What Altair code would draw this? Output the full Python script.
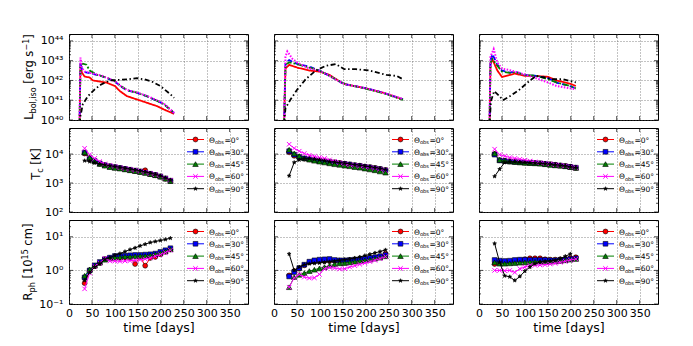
import math
import altair as alt
import pandas as pd

SERIES = ["0°", "30°", "45°", "60°", "90°"]
COLORS = ["#ff0000", "#0000ff", "#008000", "#ff00ff", "#000000"]

# ---------------- Row 1: log10 L_bol,iso (lines only) ----------------
L1_T_RED = [23, 25, 28, 34, 45, 52, 82, 100, 111, 126, 148, 170, 192, 207, 229]
L1_RED = [39.8, 42.83, 42.4, 42.2, 42.15, 42.0, 41.89, 41.72, 41.46, 41.21, 41.04, 40.87, 40.7, 40.53, 40.31]
L1_T_BLUE = [23, 25, 28, 34, 52, 70, 82, 100, 111, 126, 148, 170, 192, 207, 229]
L1_BLUE = [39.8, 42.9, 42.58, 42.43, 42.33, 42.23, 42.12, 41.95, 41.72, 41.5, 41.37, 41.2, 40.97, 40.8, 40.35]
L1_T_GREEN = [23, 25, 30, 38, 45, 60, 82, 100, 111, 126, 148, 170, 192, 207, 229]
L1_GREEN = [39.8, 42.8, 42.85, 42.8, 42.5, 42.3, 42.14, 41.97, 41.75, 41.52, 41.38, 41.2, 40.97, 40.8, 40.36]
L1_T_MAG = [23, 25, 28, 34, 52, 70, 82, 100, 111, 126, 148, 170, 192, 207, 229]
L1_MAG = [39.8, 43.16, 42.65, 42.45, 42.35, 42.25, 42.14, 41.97, 41.74, 41.52, 41.39, 41.22, 40.99, 40.82, 40.36]
L1_T_BLACK = [23, 25, 30, 41, 56, 70, 89, 110, 130, 148, 165, 180, 199, 221, 229]
L1_BLACK = [39.8, 40.2, 40.79, 41.2, 41.55, 41.8, 42.0, 42.03, 42.06, 42.12, 42.05, 41.95, 41.72, 41.3, 41.12]

L2_T = [22, 25, 33, 51, 77, 99, 121, 146, 157, 201, 238, 281]
L2_RED = [39.8, 42.6, 42.79, 42.65, 42.5, 42.45, 42.28, 41.9, 41.8, 41.6, 41.38, 41.04]
L2_BLUE = [39.8, 42.9, 43.03, 42.83, 42.7, 42.5, 42.23, 41.9, 41.8, 41.6, 41.38, 41.04]
L2_GREEN = [39.8, 42.8, 42.91, 42.83, 42.65, 42.5, 42.23, 41.92, 41.8, 41.58, 41.36, 41.02]
L2_T_MAG = [22, 25, 29, 40, 51, 77, 99, 121, 146, 157, 201, 238, 281]
L2_MAG = [39.8, 43.2, 43.47, 43.1, 42.9, 42.6, 42.5, 42.23, 41.9, 41.8, 41.6, 41.38, 41.06]
L2_T_BLACK = [22, 25, 36, 51, 69, 91, 113, 135, 153, 179, 208, 245, 267, 281]
L2_BLACK = [39.8, 40.6, 41.04, 41.55, 42.06, 42.5, 42.74, 42.83, 42.57, 42.57, 42.5, 42.28, 42.23, 42.06]

L3_T = [23, 25, 29, 40, 50, 67, 78, 100, 125, 151, 169, 198, 211]
L3_RED = [39.8, 42.8, 43.08, 42.5, 42.18, 42.28, 42.35, 42.23, 42.23, 42.18, 42.0, 41.84, 41.72]
L3_BLUE = [39.8, 43.0, 43.34, 42.8, 42.5, 42.4, 42.45, 42.28, 42.23, 42.11, 41.89, 41.72, 41.6]
L3_GREEN = [39.8, 42.9, 43.08, 42.75, 42.45, 42.38, 42.42, 42.28, 42.23, 42.06, 41.9, 41.72, 41.6]
L3_T_MAG = [23, 25, 32, 40, 50, 67, 78, 100, 125, 151, 169, 198, 211]
L3_MAG = [39.8, 43.2, 43.59, 42.9, 42.6, 42.52, 42.45, 42.3, 42.11, 41.89, 41.72, 41.6, 41.55]
L3_T_BLACK = [23, 26, 33, 45, 52, 67, 89, 111, 125, 143, 162, 184, 211]
L3_BLACK = [39.8, 40.95, 41.46, 41.2, 41.0, 41.2, 41.55, 42.0, 42.23, 42.15, 42.06, 42.06, 41.9]

# ---------------- Rows 2, 3: marker times ----------------
T1 = [34, 45, 56, 67, 78, 89, 100, 111, 122, 133, 144, 155, 166, 177, 188, 199, 210, 221]
T2 = [33, 44, 55, 66, 77, 88, 99, 110, 121, 132, 143, 154, 165, 176, 187, 198, 209, 220, 231, 243]
T3 = [34, 45, 56, 67, 78, 89, 100, 111, 122, 133, 144, 155, 166, 177, 188, 199, 211]

# Row 2: log10 T_c [K]
TC1_RED = [4.02, 3.83, 3.74, 3.66, 3.61, 3.57, 3.54, 3.51, 3.48, 3.45, 3.42, 3.39, 3.44, 3.31, 3.27, 3.22, 3.15, 3.08]
TC1_BLUE = [4.05, 3.86, 3.76, 3.68, 3.62, 3.58, 3.55, 3.52, 3.49, 3.46, 3.43, 3.40, 3.36, 3.32, 3.28, 3.23, 3.16, 3.08]
TC1_GREEN = [4.06, 3.88, 3.75, 3.66, 3.60, 3.55, 3.52, 3.50, 3.47, 3.44, 3.41, 3.38, 3.35, 3.31, 3.27, 3.22, 3.15, 3.07]
TC1_MAG = [4.20, 3.98, 3.85, 3.74, 3.66, 3.61, 3.57, 3.53, 3.50, 3.47, 3.44, 3.41, 3.37, 3.33, 3.29, 3.24, 3.17, 3.10]
TC1_BLACK = [3.77, 3.74, 3.70, 3.66, 3.63, 3.60, 3.57, 3.54, 3.51, 3.48, 3.45, 3.42, 3.38, 3.34, 3.30, 3.25, 3.18, 3.10]

TC2_RED = [4.06, 3.94, 3.88, 3.84, 3.82, 3.80, 3.78, 3.76, 3.74, 3.72, 3.69, 3.67, 3.64, 3.62, 3.60, 3.57, 3.55, 3.52, 3.49, 3.45]
TC2_BLUE = [4.10, 3.98, 3.90, 3.85, 3.82, 3.79, 3.76, 3.74, 3.72, 3.70, 3.68, 3.66, 3.64, 3.61, 3.59, 3.56, 3.54, 3.51, 3.48, 3.44]
TC2_GREEN = [4.15, 4.02, 3.93, 3.86, 3.81, 3.77, 3.74, 3.71, 3.68, 3.65, 3.63, 3.60, 3.58, 3.55, 3.53, 3.50, 3.47, 3.44, 3.40, 3.36]
TC2_MAG = [4.34, 4.20, 4.10, 4.02, 3.96, 3.92, 3.88, 3.85, 3.80, 3.75, 3.70, 3.66, 3.63, 3.61, 3.59, 3.56, 3.54, 3.51, 3.48, 3.44]
TC2_BLACK = [3.25, 3.71, 3.80, 3.84, 3.84, 3.82, 3.80, 3.77, 3.74, 3.72, 3.70, 3.68, 3.66, 3.63, 3.61, 3.58, 3.56, 3.53, 3.50, 3.46]

TC3_RED = [4.00, 3.79, 3.77, 3.75, 3.73, 3.72, 3.71, 3.70, 3.69, 3.68, 3.66, 3.65, 3.63, 3.61, 3.59, 3.56, 3.53]
TC3_BLUE = [3.98, 3.78, 3.76, 3.74, 3.73, 3.72, 3.71, 3.70, 3.69, 3.68, 3.66, 3.64, 3.62, 3.60, 3.58, 3.56, 3.53]
TC3_GREEN = [4.02, 3.80, 3.77, 3.75, 3.73, 3.71, 3.70, 3.69, 3.68, 3.67, 3.65, 3.63, 3.61, 3.60, 3.58, 3.55, 3.52]
TC3_MAG = [4.17, 3.98, 3.93, 3.88, 3.85, 3.82, 3.79, 3.76, 3.73, 3.70, 3.68, 3.66, 3.63, 3.61, 3.59, 3.56, 3.53]
TC3_BLACK = [3.23, 3.48, 3.71, 3.73, 3.73, 3.72, 3.71, 3.70, 3.69, 3.68, 3.67, 3.65, 3.63, 3.61, 3.59, 3.56, 3.53]

# Row 3: log10 R_ph [1e15 cm]
RPH1_RED = [-0.38, 0.00, 0.13, 0.22, 0.33, 0.36, 0.36, 0.37, 0.38, 0.38, 0.19, 0.40, 0.14, 0.37, 0.40, 0.48, 0.55, 0.62]
RPH1_BLUE = [-0.21, 0.00, 0.15, 0.25, 0.33, 0.38, 0.43, 0.44, 0.44, 0.45, 0.46, 0.46, 0.47, 0.48, 0.50, 0.55, 0.60, 0.66]
RPH1_GREEN = [-0.16, 0.03, 0.14, 0.23, 0.32, 0.36, 0.38, 0.39, 0.41, 0.41, 0.42, 0.43, 0.43, 0.45, 0.48, 0.52, 0.57, 0.63]
RPH1_MAG = [-0.55, -0.08, 0.12, 0.22, 0.36, 0.28, 0.28, 0.27, 0.28, 0.29, 0.30, 0.32, 0.34, 0.37, 0.42, 0.47, 0.53, 0.60]
RPH1_BLACK = [-0.30, -0.06, 0.10, 0.20, 0.33, 0.38, 0.45, 0.50, 0.56, 0.62, 0.67, 0.73, 0.78, 0.83, 0.86, 0.89, 0.92, 0.96]

RPH2_RED = [-0.15, -0.02, 0.05, 0.15, 0.24, 0.27, 0.28, 0.28, 0.28, 0.28, 0.29, 0.29, 0.30, 0.31, 0.32, 0.34, 0.36, 0.38, 0.42, 0.50]
RPH2_BLUE = [-0.18, -0.05, 0.07, 0.17, 0.26, 0.30, 0.32, 0.33, 0.34, 0.31, 0.30, 0.30, 0.31, 0.32, 0.33, 0.35, 0.37, 0.39, 0.42, 0.46]
RPH2_GREEN = [-0.50, -0.20, -0.13, -0.08, -0.02, 0.02, 0.06, 0.10, 0.14, 0.18, 0.21, 0.22, 0.24, 0.26, 0.28, 0.30, 0.32, 0.35, 0.38, 0.42]
RPH2_MAG = [-0.50, -0.22, -0.12, -0.20, -0.23, -0.22, -0.12, 0.05, 0.09, 0.07, 0.04, 0.05, 0.10, 0.14, 0.18, 0.22, 0.26, 0.30, 0.35, 0.41]
RPH2_BLACK = [0.49, 0.00, 0.10, 0.17, 0.20, 0.21, 0.22, 0.24, 0.26, 0.28, 0.30, 0.32, 0.34, 0.37, 0.40, 0.44, 0.48, 0.52, 0.56, 0.61]

RPH3_RED = [0.19, 0.22, 0.24, 0.24, 0.26, 0.30, 0.33, 0.36, 0.36, 0.36, 0.33, 0.32, 0.32, 0.33, 0.34, 0.37, 0.39]
RPH3_BLUE = [0.31, 0.29, 0.28, 0.29, 0.31, 0.32, 0.32, 0.31, 0.31, 0.31, 0.31, 0.30, 0.30, 0.31, 0.32, 0.34, 0.36]
RPH3_GREEN = [0.24, 0.20, 0.20, 0.21, 0.22, 0.23, 0.24, 0.25, 0.26, 0.26, 0.25, 0.26, 0.27, 0.28, 0.30, 0.32, 0.34]
RPH3_MAG = [0.00, 0.00, -0.01, 0.00, -0.06, 0.05, 0.10, 0.15, 0.15, 0.16, 0.17, 0.19, 0.21, 0.24, 0.27, 0.31, 0.34]
RPH3_BLACK = [0.80, 0.24, -0.16, -0.19, -0.30, -0.18, -0.02, 0.10, 0.20, 0.25, 0.27, 0.28, 0.30, 0.35, 0.42, 0.49]

DATA = [
    [
        [(L1_T_RED, L1_RED), (L1_T_BLUE, L1_BLUE), (L1_T_GREEN, L1_GREEN), (L1_T_MAG, L1_MAG), (L1_T_BLACK, L1_BLACK)],
        [(L2_T, L2_RED), (L2_T, L2_BLUE), (L2_T, L2_GREEN), (L2_T_MAG, L2_MAG), (L2_T_BLACK, L2_BLACK)],
        [(L3_T, L3_RED), (L3_T, L3_BLUE), (L3_T, L3_GREEN), (L3_T_MAG, L3_MAG), (L3_T_BLACK, L3_BLACK)],
    ],
    [
        [(T1, TC1_RED), (T1, TC1_BLUE), (T1, TC1_GREEN), (T1, TC1_MAG), (T1, TC1_BLACK)],
        [(T2, TC2_RED), (T2, TC2_BLUE), (T2, TC2_GREEN), (T2, TC2_MAG), (T2, TC2_BLACK)],
        [(T3, TC3_RED), (T3, TC3_BLUE), (T3, TC3_GREEN), (T3, TC3_MAG), (T3, TC3_BLACK)],
    ],
    [
        [(T1, RPH1_RED), (T1, RPH1_BLUE), (T1, RPH1_GREEN), (T1, RPH1_MAG), (T1, RPH1_BLACK)],
        [(T2, RPH2_RED), (T2, RPH2_BLUE), (T2, RPH2_GREEN), (T2, RPH2_MAG), (T2, RPH2_BLACK)],
        [(T3, RPH3_RED), (T3, RPH3_BLUE), (T3, RPH3_GREEN), (T3, RPH3_MAG), (T3, RPH3_BLACK)],
    ],
]

# ---------------- layout / style ----------------
FONT = "DejaVu Sans"
W = 179
HEIGHTS = [86, 84, 84]
XMAX = 390
XTICKS = [0, 50, 100, 150, 200, 250, 300, 350]
YDOM = [[1e40, 10 ** 44.35], [1e2, 10 ** 4.9], [0.1, 10 ** 1.5]]
YMAJ = [[1e40, 1e41, 1e42, 1e43, 1e44], [1e2, 1e3, 1e4], [0.1, 1.0, 10.0]]

DASHES = [[1, 0], [5, 3], [6, 2, 2, 2], [1.5, 1.5], [5, 2.5, 1.5, 2.5]]
LW1 = [1.8, 1.8, 1.8, 2.0, 1.8]

star = []
for k in range(10):
    a = math.radians(-90 + 36 * k)
    r = 1.0 if k % 2 == 0 else 0.42
    star.append(f"{r * math.cos(a):.3f},{r * math.sin(a):.3f}")
STAR = "M" + "L".join(star) + "Z"
XSHAPE = "M-1,-1L1,1M-1,1L1,-1"
SHAPES = ["circle", "square", "triangle-up", XSHAPE, STAR]
SIZES = [24, 22, 30, 20, 16]

SUP = str.maketrans("-0123456789", "⁻⁰¹²³⁴⁵⁶⁷⁸⁹")


def label_expr(values):
    parts = []
    for v in values:
        e = round(math.log10(v))
        parts.append(f"abs(log(datum.value)/LN10 - ({e})) < 0.01 ? '10{str(e).translate(SUP)}'")
    return " : ".join(parts) + " : ''"


def minor_vals(dom):
    lo = math.floor(math.log10(dom[0]))
    hi = math.ceil(math.log10(dom[1]))
    out = []
    for n in range(lo, hi + 1):
        for k in range(2, 10):
            v = k * 10.0 ** n
            if dom[0] < v < dom[1]:
                out.append(v)
    return out


CW = {'L': 0.557, 'T': 0.611, 'R': 0.695, 'b': 0.635, 'o': 0.612, 'l': 0.278, ',': 0.318,
      'i': 0.278, 's': 0.521, ' ': 0.318, '[': 0.390, ']': 0.390, 'e': 0.615, 'r': 0.411,
      'g': 0.635, '−': 0.838, '1': 0.636, '5': 0.636, '0': 0.636, 'K': 0.656, 'c': 0.550,
      'p': 0.635, 'h': 0.634, 'm': 0.974}


def tw(s, fs):
    return sum(CW[ch] for ch in s) * fs


TITLE_FS, TITLE_SUB = 11.5, 8.0
YTITLES = [
    (-36, 0, [("L", TITLE_FS, 0), ("bol,iso", TITLE_SUB, 3), (" [erg s", TITLE_FS, 0), ("−1", TITLE_SUB, -4.5), ("]", TITLE_FS, 0)]),
    (-29, -6, [("T", TITLE_FS, 0), ("c", TITLE_SUB, 3), (" [K]", TITLE_FS, 0)]),
    (-37, 0, [("R", TITLE_FS, 0), ("ph", TITLE_SUB, 3), (" [10", TITLE_FS, 0), ("15", TITLE_SUB, -4.5), (" cm]", TITLE_FS, 0)]),
]

ONE = pd.DataFrame({"k": [0]})

LEG_TOP, LEG_STEP = 11.5, 12.3
LEG_X0, LEG_X1, LEG_TX = 118, 135, 140
LEG_FS, LEG_SUB = 7.5, 5.2


def point_mark(i):
    if i == 3:
        return dict(shape=SHAPES[i], filled=False, color=COLORS[i], strokeWidth=1, size=SIZES[i], opacity=1)
    return dict(shape=SHAPES[i], filled=True, fill=COLORS[i], stroke="black", strokeWidth=0.6,
                size=SIZES[i], opacity=1)


def make_panel(row, col):
    H = HEIGHTS[row]
    xs = alt.Scale(domain=[0, XMAX], nice=False, zero=False)
    ys = alt.Scale(type="log", domain=YDOM[row], nice=False)
    if row == 2:
        xa = alt.Axis(values=XTICKS, title="time [days]", grid=True, ticks=False, tickSize=0, domain=False,
                      labelPadding=3, titlePadding=3, labelFontSize=11, titleFontSize=12.5,
                      titleFontWeight=400, labelFlush=False, labelOverlap=False)
    else:
        xa = alt.Axis(values=XTICKS, labels=False, title=None, grid=True, ticks=False, tickSize=0, domain=False)
    ya = alt.Axis(values=YMAJ[row], labelExpr=label_expr(YMAJ[row]), labels=(col == 0), title=None,
                  grid=True, ticks=False, tickSize=0, domain=False, labelPadding=6, labelFlush=False,
                  labelOverlap=False, labelFontSize=11)
    xe = alt.X("t:Q", scale=xs, axis=xa)
    ye = alt.Y("y:Q", scale=ys, axis=ya)

    layers = []
    # tick marks inside frame
    ymaj = pd.DataFrame({"y": YMAJ[row]})
    ymin = pd.DataFrame({"y": minor_vals(YDOM[row])})
    xt = pd.DataFrame({"t": XTICKS[1:]})
    for d, ln in ((ymaj, 4), (ymin, 2)):
        layers.append(alt.Chart(d).mark_rule(color="black", strokeWidth=0.7)
                      .encode(y=ye, x=alt.value(0), x2=alt.value(ln)))
        layers.append(alt.Chart(d).mark_rule(color="black", strokeWidth=0.7)
                      .encode(y=ye, x=alt.value(W - ln), x2=alt.value(W)))
    layers.append(alt.Chart(xt).mark_rule(color="black", strokeWidth=0.7)
                  .encode(x=xe, y=alt.value(0), y2=alt.value(4)))
    layers.append(alt.Chart(xt).mark_rule(color="black", strokeWidth=0.7)
                  .encode(x=xe, y=alt.value(H - 4), y2=alt.value(H)))

    for i, (ts, vs) in enumerate(DATA[row][col]):
        df = pd.DataFrame({"t": ts[:len(vs)], "y": [10 ** v for v in vs]})
        base = alt.Chart(df)
        if row == 0:
            layers.append(base.mark_line(clip=True, color=COLORS[i], strokeWidth=LW1[i],
                                         strokeDash=DASHES[i]).encode(x=xe, y=ye))
        else:
            layers.append(base.mark_line(clip=True, color=COLORS[i], strokeWidth=1).encode(x=xe, y=ye))
            layers.append(base.mark_point(clip=True, **point_mark(i)).encode(x=xe, y=ye))

    if row > 0:
        for i in range(5):
            yy = LEG_TOP + LEG_STEP * i
            one = alt.Chart(ONE)
            layers.append(one.mark_rule(color=COLORS[i], strokeWidth=1)
                          .encode(x=alt.value(LEG_X0), x2=alt.value(LEG_X1), y=alt.value(yy)))
            layers.append(one.mark_point(**point_mark(i))
                          .encode(x=alt.value((LEG_X0 + LEG_X1) / 2), y=alt.value(yy)))
            x1 = LEG_TX
            layers.append(one.mark_text(text="Θ", align="left", baseline="alphabetic", font=FONT,
                                        fontSize=LEG_FS, color="black")
                          .encode(x=alt.value(x1), y=alt.value(yy + 3)))
            x2 = x1 + 0.787 * LEG_FS
            layers.append(one.mark_text(text="obs", align="left", baseline="alphabetic", font=FONT,
                                        fontSize=LEG_SUB, color="black")
                          .encode(x=alt.value(x2), y=alt.value(yy + 4.3)))
            x3 = x2 + 1.768 * LEG_SUB + 0.4
            layers.append(one.mark_text(text="=" + SERIES[i], align="left", baseline="alphabetic",
                                        font=FONT, fontSize=LEG_FS, color="black")
                          .encode(x=alt.value(x3), y=alt.value(yy + 3)))

    if col == 0:
        xb, yshift, pieces = YTITLES[row]
        total = 0.0
        for txt, fs, sh in pieces:
            total += tw(txt, fs)
        ybot = H / 2 + total / 2 + yshift
        off = 0.0
        for txt, fs, sh in pieces:
            lead = len(txt) - len(txt.lstrip(" "))
            off += lead * CW[" "] * fs
            body = txt.strip()
            layers.append(alt.Chart(ONE).mark_text(text=body, angle=270, align="left",
                                                   baseline="alphabetic", font=FONT, fontSize=fs,
                                                   color="black")
                          .encode(x=alt.value(xb + sh), y=alt.value(ybot - off)))
            off += tw(body, fs)

    return alt.layer(*layers).properties(width=W, height=H)


panels = [make_panel(r, c) for r in range(3) for c in range(3)]

chart = (
    alt.concat(*panels, columns=3, spacing={"row": 8, "column": 26}, bounds="flush")
    .properties(padding={"left": 13, "top": 25, "right": 5, "bottom": 5})
    .configure_view(stroke="black", strokeWidth=1)
    .configure_axis(labelFont=FONT, titleFont=FONT, labelColor="black", titleColor="black",
                    titleFontWeight=400, gridColor="#555555", gridDash=[1, 2], gridWidth=0.7,
                    gridOpacity=1)
)

chart.save("out.html", embed_options={"renderer": "svg", "actions": False})
